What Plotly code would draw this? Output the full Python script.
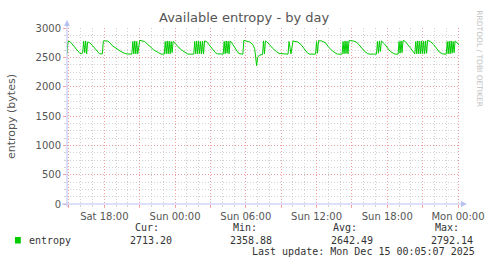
import plotly.graph_objects as go
import pandas as pd

# ---- data ----
times = [
    "Sat 14:50", "Sat 14:55", "Sat 15:05", "Sat 15:15", "Sat 15:30", "Sat 15:45", "Sat 15:55", "Sat 16:05",
    "Sat 16:10", "Sat 16:15", "Sat 16:20", "Sat 16:25", "Sat 16:30", "Sat 16:35", "Sat 16:45", "Sat 17:00",
    "Sat 17:15", "Sat 17:30", "Sat 17:35", "Sat 17:50", "Sat 17:55", "Sat 18:15", "Sat 18:25", "Sat 18:40",
    "Sat 19:00", "Sat 19:15", "Sat 19:35", "Sat 19:50", "Sat 20:20", "Sat 20:25", "Sat 20:30", "Sat 20:35",
    "Sat 20:40", "Sat 20:45", "Sat 20:50", "Sat 21:00", "Sat 21:25", "Sat 21:45", "Sat 22:10", "Sat 22:35",
    "Sat 22:50", "Sat 23:05", "Sat 23:10", "Sat 23:15", "Sat 23:20", "Sat 23:25", "Sat 23:30", "Sat 23:35",
    "Sat 23:40", "Sat 23:45", "Sat 23:50", "Sun 00:00", "Sun 00:15", "Sun 00:35", "Sun 00:55", "Sun 01:05",
    "Sun 01:35", "Sun 01:40", "Sun 01:45", "Sun 01:50", "Sun 01:55", "Sun 02:00", "Sun 02:05", "Sun 02:10",
    "Sun 02:15", "Sun 02:20", "Sun 02:25", "Sun 02:30", "Sun 02:40", "Sun 02:55", "Sun 03:10", "Sun 03:25",
    "Sun 03:35", "Sun 04:05", "Sun 04:10", "Sun 04:15", "Sun 04:20", "Sun 04:25", "Sun 04:30", "Sun 04:35",
    "Sun 04:40", "Sun 04:50", "Sun 05:05", "Sun 05:20", "Sun 05:30", "Sun 05:45", "Sun 05:50", "Sun 06:05",
    "Sun 06:20", "Sun 06:35", "Sun 06:45", "Sun 06:55", "Sun 07:00", "Sun 07:10", "Sun 07:25", "Sun 07:30",
    "Sun 07:35", "Sun 07:40", "Sun 07:45", "Sun 08:00", "Sun 08:15", "Sun 08:35", "Sun 08:50", "Sun 09:35",
    "Sun 09:40", "Sun 09:50", "Sun 10:00", "Sun 10:05", "Sun 10:25", "Sun 10:40", "Sun 10:55", "Sun 11:15",
    "Sun 11:25", "Sun 11:55", "Sun 12:00", "Sun 12:05", "Sun 12:10", "Sun 12:25", "Sun 12:45", "Sun 13:00",
    "Sun 13:20", "Sun 13:35", "Sun 13:45", "Sun 14:10", "Sun 14:15", "Sun 14:20", "Sun 14:25", "Sun 14:30",
    "Sun 14:35", "Sun 14:40", "Sun 14:45", "Sun 15:05", "Sun 15:20", "Sun 15:35", "Sun 15:50", "Sun 16:05",
    "Sun 16:20", "Sun 16:30", "Sun 17:05", "Sun 17:10", "Sun 17:15", "Sun 17:20", "Sun 17:25", "Sun 17:30",
    "Sun 17:45", "Sun 18:00", "Sun 18:15", "Sun 18:30", "Sun 18:40", "Sun 18:55", "Sun 19:00", "Sun 19:05",
    "Sun 19:10", "Sun 19:15", "Sun 19:20", "Sun 19:30", "Sun 19:45", "Sun 20:00", "Sun 20:15", "Sun 20:20",
    "Sun 20:25", "Sun 20:30", "Sun 20:35", "Sun 20:40", "Sun 20:45", "Sun 20:50", "Sun 20:55", "Sun 21:00",
    "Sun 21:05", "Sun 21:10", "Sun 21:15", "Sun 21:20", "Sun 21:25", "Sun 21:40", "Sun 21:55", "Sun 22:10",
    "Sun 22:25", "Sun 22:40", "Sun 23:00", "Sun 23:05", "Sun 23:10", "Sun 23:15", "Sun 23:20", "Sun 23:25",
    "Sun 23:30", "Sun 23:35", "Sun 23:40", "Sun 23:45", "Sun 23:50", "Mon 00:00", "Mon 00:05",
]
entropy = [
    2560, 2770, 2770, 2730, 2660, 2600, 2570, 2560,
    2590, 2775, 2580, 2780, 2560, 2760, 2750, 2700,
    2640, 2580, 2560, 2560, 2780, 2780, 2760, 2700,
    2650, 2620, 2580, 2560, 2555, 2770, 2560, 2780,
    2560, 2770, 2560, 2790, 2770, 2700, 2630, 2580,
    2555, 2555, 2770, 2560, 2780, 2560, 2775, 2560,
    2770, 2580, 2770, 2740, 2680, 2620, 2570, 2555,
    2555, 2770, 2560, 2780, 2560, 2775, 2560, 2770,
    2560, 2775, 2560, 2780, 2770, 2700, 2640, 2580,
    2560, 2555, 2770, 2560, 2780, 2570, 2775, 2560,
    2780, 2740, 2660, 2580, 2560, 2555, 2790, 2780,
    2760, 2720, 2650, 2358.88, 2500, 2540, 2545, 2780,
    2560, 2780, 2770, 2720, 2660, 2600, 2565, 2555,
    2770, 2560, 2780, 2775, 2760, 2720, 2650, 2570,
    2555, 2555, 2770, 2570, 2785, 2780, 2750, 2680,
    2610, 2570, 2555, 2555, 2770, 2560, 2780, 2565,
    2775, 2560, 2785, 2780, 2765, 2720, 2660, 2600,
    2565, 2555, 2555, 2770, 2570, 2780, 2600, 2780,
    2730, 2660, 2600, 2570, 2555, 2555, 2770, 2570,
    2780, 2580, 2785, 2775, 2720, 2650, 2580, 2560,
    2770, 2560, 2780, 2560, 2775, 2560, 2780, 2565,
    2775, 2560, 2780, 2570, 2790, 2770, 2720, 2650,
    2590, 2560, 2555, 2770, 2560, 2775, 2560, 2780,
    2570, 2770, 2580, 2780, 2760, 2730, 2713.20,
]
day_dates = {"Sat": "2025-12-13", "Sun": "2025-12-14", "Mon": "2025-12-15"}

x_range = ["Sat 14:50", "Mon 00:10"]
tick_times = ["Sat 15:00", "Sat 18:00", "Sat 21:00", "Sun 00:00", "Sun 03:00", "Sun 06:00",
              "Sun 09:00", "Sun 12:00", "Sun 15:00", "Sun 18:00", "Sun 21:00", "Mon 00:00"]
tick_labels = ["", "Sat 18:00", "", "Sun 00:00", "", "Sun 06:00",
               "", "Sun 12:00", "", "Sun 18:00", "", "Mon 00:00"]
y_ticks = [0, 500, 1000, 1500, 2000, 2500, 3000]

series_name = "entropy"
stat_headers = ["Cur:", "Min:", "Avg:", "Max:"]
stat_values = ["2713.20", "2358.88", "2642.49", "2792.14"]
last_update = "Last update: Mon Dec 15 00:05:07 2025"
title = "Available entropy - by day"
y_title = "entropy (bytes)"
watermark = "RRDTOOL / TOBI OETIKER"


def to_ts(s):
    d, t = s.split()
    return pd.Timestamp(f"{day_dates[d]} {t}")


xs = [to_ts(t) for t in times]

# ---- layout geometry (pixels) ----
W, H = 497, 264
ML, MR, MT, MB = 67, 30, 28, 60
PW, PH = W - ML - MR, H - MT - MB


def px(x):
    return (x - ML) / PW


def py(y):
    return (H - MB - y) / PH


GREEN = "#00cc00"
TXT = "#555555"
MAJ = "rgba(245,150,150,0.85)"
MIN = "rgba(205,205,205,0.9)"
AXC = "#b8c0f0"
DASH = "1px,2px"

fig = go.Figure()
fig.add_trace(go.Scatter(x=xs, y=entropy, mode="lines", name=series_name,
                         line=dict(color=GREEN, width=1), showlegend=False,
                         hoverinfo="x+y"))

fig.update_layout(
    width=W, height=H,
    margin=dict(l=ML, r=MR, t=MT, b=MB, pad=0),
    paper_bgcolor="white", plot_bgcolor="white",
    font=dict(family="DejaVu Sans", size=10, color=TXT),
    showlegend=False,
)

fig.update_xaxes(
    range=[to_ts(x_range[0]), to_ts(x_range[1])],
    tickmode="array", tickvals=[to_ts(t) for t in tick_times], ticktext=tick_labels,
    showgrid=True, gridcolor=MAJ, griddash=DASH, gridwidth=1,
    ticks="outside", ticklen=3, tickcolor=MAJ,
    tickfont=dict(family="DejaVu Sans", size=10, color=TXT),
    minor=dict(dtick=3600000, showgrid=True, gridcolor=MIN, griddash=DASH, gridwidth=1,
               ticks="outside", ticklen=2, tickcolor=MIN, tick0="2025-12-13 00:00"),
    showline=False, zeroline=False,
)
fig.update_yaxes(
    range=[0, 3000], tickmode="array", tickvals=y_ticks,
    ticktext=[str(v) for v in y_ticks],
    showgrid=True, gridcolor=MAJ, griddash=DASH, gridwidth=1,
    ticks="outside", ticklen=3, tickcolor=MAJ,
    tickfont=dict(family="DejaVu Sans", size=10, color=TXT),
    minor=dict(dtick=125, tick0=0, showgrid=True, gridcolor=MIN, griddash=DASH, gridwidth=1,
               ticks="outside", ticklen=2, tickcolor=MIN),
    showline=False, zeroline=False,
)

shapes = []
# axis lines with arrow heads
shapes.append(dict(type="line", xref="paper", yref="paper", x0=px(62), x1=px(470), y0=0, y1=0,
                   line=dict(color=AXC, width=1)))
shapes.append(dict(type="line", xref="paper", yref="paper", x0=0, x1=0, y0=py(207), y1=py(24),
                   line=dict(color=AXC, width=1)))
shapes.append(dict(type="path", xref="paper", yref="paper",
                   path=f"M {px(468)} {py(201)} L {px(474)} {py(204)} L {px(468)} {py(207)} Z",
                   fillcolor=AXC, line=dict(color=AXC, width=0)))
shapes.append(dict(type="path", xref="paper", yref="paper",
                   path=f"M {px(64)} {py(26)} L {px(67)} {py(20)} L {px(70)} {py(26)} Z",
                   fillcolor=AXC, line=dict(color=AXC, width=0)))
# legend swatch
shapes.append(dict(type="rect", xref="paper", yref="paper",
                   x0=px(14), x1=px(20), y0=py(243.5), y1=py(237),
                   fillcolor=GREEN, line=dict(width=0)))
fig.update_layout(shapes=shapes)

MONO = dict(family="DejaVu Sans Mono", size=10, color="#333333")
ann = []
ann.append(dict(text=title, x=px(248), y=py(18), xref="paper", yref="paper", showarrow=False,
                xanchor="center", yanchor="middle", font=dict(family="DejaVu Sans", size=13, color=TXT)))
ann.append(dict(text=y_title, x=px(10), y=py(116), xref="paper", yref="paper", showarrow=False,
                textangle=-90, xanchor="center", yanchor="middle",
                font=dict(family="DejaVu Sans", size=11, color=TXT)))
ann.append(dict(text=watermark, x=px(487), y=py(59), xref="paper", yref="paper", showarrow=False,
                textangle=90, xanchor="center", yanchor="middle",
                font=dict(family="DejaVu Sans", size=7.5, color="#c0c0c0")))
ann.append(dict(text=series_name, x=px(26), y=py(240), xref="paper", yref="paper", showarrow=False,
                xanchor="left", yanchor="middle", font=MONO))
head_right = [163, 262, 364, 468]
val_right = [176, 278, 380, 482]
for h, v, hr, vr in zip(stat_headers, stat_values, head_right, val_right):
    ann.append(dict(text=h, x=px(hr), y=py(228), xref="paper", yref="paper", showarrow=False,
                    xanchor="right", yanchor="middle", font=MONO))
    ann.append(dict(text=v, x=px(vr), y=py(240), xref="paper", yref="paper", showarrow=False,
                    xanchor="right", yanchor="middle", font=MONO))
ann.append(dict(text=last_update, x=px(484), y=py(251.5), xref="paper", yref="paper", showarrow=False,
                xanchor="right", yanchor="middle", font=MONO))
fig.update_layout(annotations=ann)

fig.write_html("out.html")
